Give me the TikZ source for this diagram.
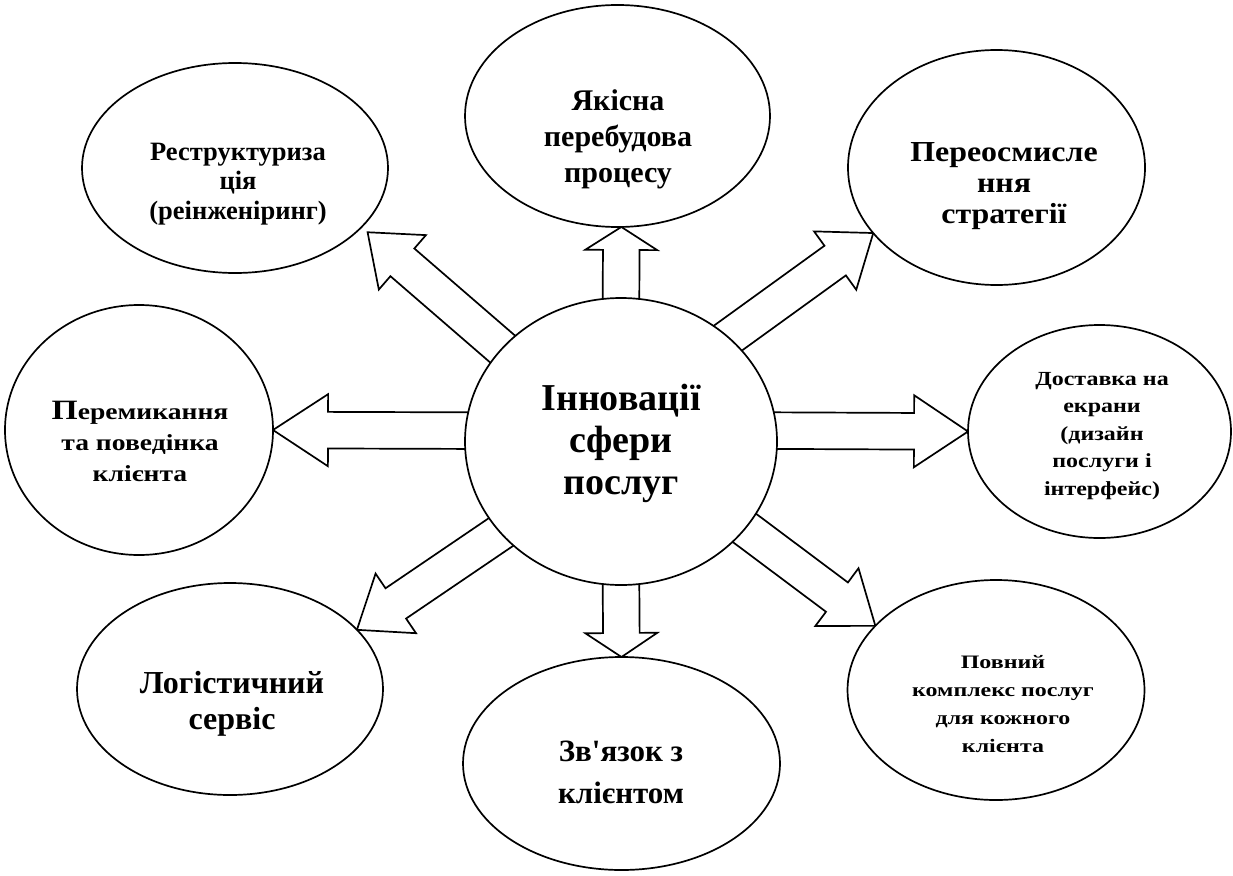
\documentclass[tikz,border=0pt]{standalone}
\usepackage{fontspec}
\setmainfont{Liberation Serif}
\newfontfamily\slightfont[FakeStretch=1.1]{Liberation Serif}
\newfontfamily\widefont[FakeStretch=1.2]{Liberation Serif}
\newfontfamily\widerfont[FakeStretch=1.26]{Liberation Serif}
\usetikzlibrary{calc,backgrounds,shapes.geometric}
\tikzset{
  ell/.style={ellipse, draw=black, line width=1.7pt, fill=white, inner sep=0pt, outer sep=0pt},
  txt/.style={align=center, inner sep=0pt, font=\bfseries},
  hl/.store in=\bahl, gap/.store in=\bagap,
  barrow/.style={draw=black, line width=1.7pt, fill=white, line join=miter, gap=0pt,
    to path={let \p1=(\tikztostart), \p2=($(\tikztotarget)!\bagap!(\tikztostart)$),
      \p4=($(\p1)!-12pt!(\p2)$), \p3=($(\p2)!\bahl!(\p1)$) in
      ($(\p4)!18.3pt!90:(\p2)$) -- ($(\p3)!18.3pt!90:(\p2)$) -- ($(\p3)!36pt!90:(\p2)$)
      -- (\p2) -- ($(\p3)!36pt!-90:(\p2)$) -- ($(\p3)!18.3pt!-90:(\p2)$)
      -- ($(\p4)!18.3pt!-90:(\p2)$) -- cycle}}
}
\begin{document}
\begin{tikzpicture}[x=1pt,y=-1pt]
\useasboundingbox (0,0) rectangle (1233,875);
% ellipses
\node[ell, minimum width=312pt, minimum height=287pt] (c) at (621,441.5) {};
\node[ell, minimum width=306pt, minimum height=210pt] (rs) at (235,168) {};
\node[ell, minimum width=305pt, minimum height=222pt] (yk) at (617.5,116) {};
\node[ell, minimum width=297pt, minimum height=235pt] (pe) at (996.5,167.5) {};
\node[ell, minimum width=268pt, minimum height=250pt] (pm) at (139,430) {};
\node[ell, minimum width=263pt, minimum height=213pt] (ds) at (1099.5,431.5) {};
\node[ell, minimum width=306pt, minimum height=212pt] (lg) at (230,689) {};
\node[ell, minimum width=317pt, minimum height=213pt] (zv) at (621.5,763.5) {};
\node[ell, minimum width=297pt, minimum height=220pt] (pk) at (996,690) {};
% texts
\node[txt, font=\fontsize{38}{42}\selectfont\bfseries] (c-t) at (621,443) {Інновації\\сфери\\послуг};
\node[txt, font=\fontsize{26.5}{29.3}\selectfont\bfseries] (rs-t) at (238,184) {Реструктуриза\\ція\\(реінженіринг)};
\node[txt, font=\fontsize{30}{36}\selectfont\bfseries] (yk-t) at (618,139) {Якісна\\перебудова\\процесу};
\node[txt, font=\slightfont\fontsize{29}{31}\selectfont\bfseries] (pe-t) at (1004,186) {Переосмисле\\ння\\стратегії};
\node[txt, font=\widefont\fontsize{23}{31}\selectfont\bfseries] (pm-t) at (140,441) {{\fontsize{28}{31}\selectfont П}еремикання\\та поведінка\\клієнта};
\node[txt, font=\widefont\fontsize{20}{27.5}\selectfont\bfseries] (ds-t) at (1102,436) {Доставка на\\екрани\\(дизайн\\послуги і\\інтерфейс)};
\node[txt, font=\fontsize{32}{36}\selectfont\bfseries] (lg-t) at (232,704) {Логістичний\\сервіс};
\node[txt, font=\fontsize{31}{42}\selectfont\bfseries] (zv-t) at (621,772) {Зв\textquotesingle язок з\\клієнтом};
\node[txt, font=\widerfont\fontsize{19}{27.8}\selectfont\bfseries] (pk-t) at (1003,704) {Повний\\комплекс послуг\\для кожного\\клієнта};
% arrows
\begin{scope}[on background layer]
\fill[white] (0,0) rectangle (1233,875);
\draw[barrow, hl=46pt, gap=8pt] (c.142) to (rs.-25);
\draw[barrow, hl=23pt] (c.90) to (yk.-88);
\draw[barrow, hl=47pt] (c.44) to (pe.208);
\draw[barrow, hl=55pt] (c.176) to (pm.0);
\draw[barrow, hl=54pt] (c.4) to (ds.180);
\draw[barrow, hl=47pt] (c.217) to (lg.25);
\draw[barrow, hl=24pt] (c.270) to (zv.90);
\draw[barrow, hl=48pt] (c.325) to (pk.152);
\end{scope}
\end{tikzpicture}
\end{document}
